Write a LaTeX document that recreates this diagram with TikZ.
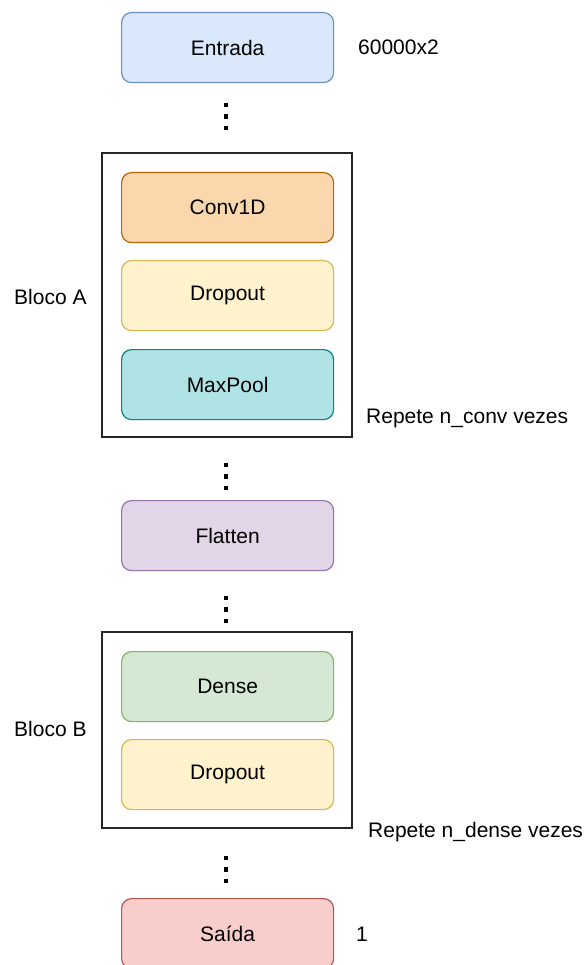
\documentclass[tikz,border=0pt]{standalone}
\usepackage{fontspec}
\setmainfont{Liberation Sans}
\definecolor{inFill}{HTML}{DAE8FC}\definecolor{inLine}{HTML}{6C8EBF}
\definecolor{cvFill}{HTML}{FAD7AC}\definecolor{cvLine}{HTML}{B46504}
\definecolor{dpFill}{HTML}{FFF2CC}\definecolor{dpLine}{HTML}{D6B656}
\definecolor{mpFill}{HTML}{B0E3E6}\definecolor{mpLine}{HTML}{0E8088}
\definecolor{flFill}{HTML}{E1D5E7}\definecolor{flLine}{HTML}{9673A6}
\definecolor{dnFill}{HTML}{D5E8D4}\definecolor{dnLine}{HTML}{82B366}
\definecolor{outFill}{HTML}{F8CECC}\definecolor{outLine}{HTML}{B85450}
\begin{document}
\begin{tikzpicture}[x=1pt,y=-1pt,
  layer/.style={rectangle, rounded corners=10pt, line width=1.2pt,
    minimum width=212pt, minimum height=70pt, inner sep=0pt,
    font=\fontsize{21}{25}\selectfont, anchor=north west},
  frame/.style={draw=black!85, line width=1.6pt, fill=white},
  lbl/.style={font=\fontsize{21}{25}\selectfont, inner sep=0pt, anchor=west},
  dot/.style={fill=black, minimum size=4.5pt, inner sep=0pt, rectangle}]
\useasboundingbox (0,0) rectangle (585,965);
\clip (0,0) rectangle (585,965);

% repeated blocks
\draw[frame] (102,153) rectangle (352,437);
\draw[frame] (102,632) rectangle (352,828);

% layers
\node[layer, fill=inFill, draw=inLine] (entrada) at (121,12) {Entrada};
\node[layer, fill=cvFill, draw=cvLine] (conv) at (121,172) {Conv1D};
\node[layer, fill=dpFill, draw=dpLine] (dropA) at (121,260) {Dropout};
\node[layer, fill=mpFill, draw=mpLine] (pool) at (121,349) {MaxPool};
\node[layer, fill=flFill, draw=flLine] (flat) at (121,500) {Flatten};
\node[layer, fill=dnFill, draw=dnLine] (dense) at (121,651) {Dense};
\node[layer, fill=dpFill, draw=dpLine] (dropB) at (121,739) {Dropout};
\node[layer, fill=outFill, draw=outLine] (saida) at (121,898) {Saída};

% side labels
\node[lbl] (shapeIn) at (358,47) {60000x2};
\node[lbl] (blocoA) at (14,297) {Bloco A};
\node[lbl] (repA) at (366,418) {Repete n\_conv vezes};
\node[lbl] (blocoB) at (14,729) {Bloco B};
\node[lbl] (repB) at (368,832) {Repete n\_dense vezes};
\node[lbl] (shapeOut) at (356,934) {1};

% vertical ellipses between stages
\foreach \y in {105,465,598,858}{
  \node[dot] at (226,\y) {};
  \node[dot] at (226,\y+11.5) {};
  \node[dot] at (226,\y+23) {};
}
\end{tikzpicture}
\end{document}
